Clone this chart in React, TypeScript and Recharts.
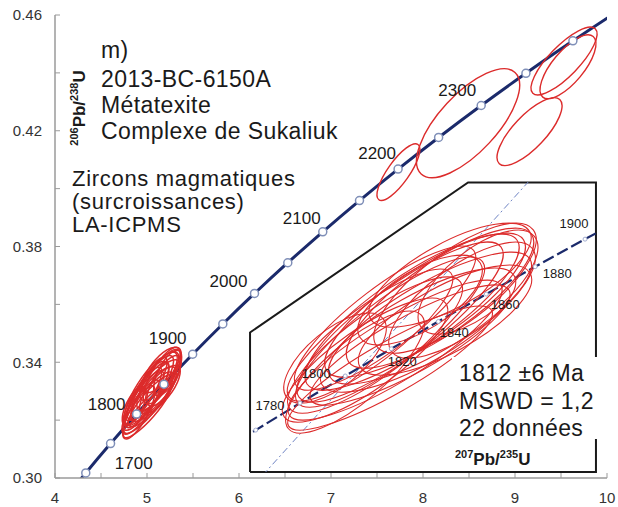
import React from 'react';
import { ComposedChart, Line, Scatter, XAxis, YAxis, LabelList } from 'recharts';

const FONT = '"Liberation Sans", Arial, Helvetica, sans-serif';
const NAVY = '#1b2a6b';
const RED = '#dc2b2b';
const AXIS_GREY = '#9a9a9a';
const FRAME_DARK = '#4a4a4a';

// Wetherill concordia, 50 Ma steps (207Pb/235U, 206Pb/238U)
const CONC_AGE = [1650, 1700, 1750, 1800, 1850, 1900, 1950, 2000, 2050, 2100, 2150, 2200, 2250, 2300, 2350, 2400, 2450];
const CONC_X = [4.0784, 4.3345, 4.604, 4.8869, 5.184, 5.4962, 5.8241, 6.1686, 6.5304, 6.9105, 7.3097, 7.7292, 8.1698, 8.6325, 9.1187, 9.6294, 10.166];
const CONC_Y = [0.2917, 0.30175, 0.31189, 0.3221, 0.3324, 0.34277, 0.35323, 0.36377, 0.37439, 0.38509, 0.39587, 0.40674, 0.41769, 0.42873, 0.43986, 0.45107, 0.46236];
const CONC_LABELED = [1700, 1800, 1900, 2000, 2100, 2200, 2300];

// concordia segment of the enlarged view, 20 Ma steps
const ZOOM_AGE = [1740, 1760, 1780, 1800, 1820, 1840, 1860, 1880, 1900, 1920];
const ZOOM_X = [4.5491, 4.6595, 4.7721, 4.8869, 5.004, 5.1234, 5.2453, 5.3695, 5.4962, 5.6254];
const ZOOM_Y = [0.30986, 0.31393, 0.31801, 0.3221, 0.32621, 0.33033, 0.33447, 0.33861, 0.34277, 0.34695];
const ZOOM_LABELED = [1780, 1800, 1820, 1840, 1860, 1880, 1900];

// zircon overgrowths, 22 analyses: 207/235, err, 206/238, err, rho
const ZR_X = [5.0262, 5.0567, 5.0897, 5.0008, 5.1278, 4.9626, 5.0719, 5.1659, 5.0135, 5.1024, 4.9372, 4.9118, 4.861, 5.1405, 5.1837, 5.2243, 4.9881, 5.0516, 5.1532, 5.077, 4.9499, 5.0008];
const ZR_SX = [0.262, 0.272, 0.255, 0.24, 0.238, 0.222, 0.248, 0.206, 0.272, 0.258, 0.21, 0.176, 0.13, 0.22, 0.186, 0.152, 0.23, 0.254, 0.206, 0.158, 0.21, 0.26];
const ZR_Y = [0.33024, 0.33175, 0.3328, 0.32873, 0.33386, 0.32677, 0.32903, 0.33537, 0.32601, 0.33084, 0.3245, 0.32269, 0.3248, 0.33054, 0.33356, 0.33628, 0.33084, 0.32677, 0.33733, 0.33356, 0.32828, 0.32329];
const ZR_SY = [0.01208, 0.01178, 0.01087, 0.01132, 0.01057, 0.01027, 0.00936, 0.00981, 0.01057, 0.00996, 0.00936, 0.00921, 0.00679, 0.0083, 0.00876, 0.00785, 0.01087, 0.00906, 0.00785, 0.00679, 0.00996, 0.00936];
const ZR_RHO = [0.85, 0.83, 0.81, 0.85, 0.8, 0.83, 0.78, 0.75, 0.86, 0.8, 0.81, 0.79, 0.66, 0.74, 0.73, 0.67, 0.85, 0.85, 0.72, 0.66, 0.85, 0.88];

// older inherited grains
const OLD_X = [7.733, 8.49, 9.158, 9.533, 9.576];
const OLD_SX = [0.233, 0.56, 0.353, 0.359, 0.304];
const OLD_Y = [0.4057, 0.4226, 0.4197, 0.4441, 0.4421];
const OLD_SY = [0.0098, 0.0188, 0.01172, 0.01172, 0.01103];
const OLD_RHO = [0.8, 0.7, 0.76, 0.8, 0.72];

// 207Pb/206Pb reference line through the origin (1812 Ma)
const PBPB_X = [4.6, 5.45];
const PBPB_Y = [0.30204, 0.35785];

// outline of the enlarged view, in main-plot units
const FRAME_X = [6.12, 9.88, 9.88, 8.49, 6.12, 6.12];
const FRAME_Y = [0.3021, 0.3021, 0.4021, 0.4021, 0.3503, 0.3021];

const X_TICKS = [4, 4.5, 5, 5.5, 6, 6.5, 7, 7.5, 8, 8.5, 9, 9.5, 10];
const X_LABELS = [4, 5, 6, 7, 8, 9, 10];
const Y_TICKS = [0.3, 0.32, 0.34, 0.36, 0.38, 0.4, 0.42, 0.44, 0.46];
const Y_LABELS = [0.3, 0.34, 0.38, 0.42, 0.46];

// layout
const W = 618;
const H = 507;
const PLOT = { left: 55, top: 15, right: 607, bottom: 478 };
const X_DOM: [number, number] = [4, 10];
const Y_DOM: [number, number] = [0.3, 0.46];
const INSET = { left: 250, top: 182, width: 346, height: 290 };
const IX_DOM: [number, number] = [4.645, 5.524];
const IY_DOM: [number, number] = [0.3076, 0.3514];

const KX = (PLOT.right - PLOT.left) / (X_DOM[1] - X_DOM[0]);
const KY = (PLOT.bottom - PLOT.top) / (Y_DOM[1] - Y_DOM[0]);
const IKX = INSET.width / (IX_DOM[1] - IX_DOM[0]);
const IKY = INSET.height / (IY_DOM[1] - IY_DOM[0]);

// label offsets (px) relative to each age marker
const CONC_NUDGE: Record<number, [number, number]> = {
  1700: [48, -10], 1800: [-30, -10], 1900: [-25, -16], 2000: [-26, -13],
  2100: [-21, -14], 2200: [-21, -16], 2300: [-24, -16],
};
const ZOOM_NUDGE: Record<number, [number, number]> = {
  1780: [-30, 2], 1800: [-29, -3], 1820: [11, 13], 1840: [16, 11],
  1860: [19, 10], 1880: [22, 7], 1900: [-11, -16],
};

const concordia = CONC_AGE.map((age, i) => ({ age, x: CONC_X[i], y: CONC_Y[i] }));
const zoomConcordia = ZOOM_AGE.map((age, i) => ({ age, x: ZOOM_X[i], y: ZOOM_Y[i] }));
const zircons = ZR_X.map((x, i) => ({ x, y: ZR_Y[i], sx: ZR_SX[i], sy: ZR_SY[i], rho: ZR_RHO[i] }));
const olderGrains = OLD_X.map((x, i) => ({ x, y: OLD_Y[i], sx: OLD_SX[i], sy: OLD_SY[i], rho: OLD_RHO[i] }));
const pbpbLine = PBPB_X.map((x, i) => ({ x, y: PBPB_Y[i] }));
const frame = FRAME_X.map((x, i) => ({ x, y: FRAME_Y[i] }));

// error ellipse from half-extents + correlation, scaled to pixels
const ellipseShape = (kx: number, ky: number, width: number) => (p: any) => {
  const { cx, cy, payload } = p;
  if (cx == null || cy == null) return <g />;
  const a = kx * payload.sx;
  const b = ky * payload.sy;
  const c = payload.rho * a * b;
  const mid = (a * a + b * b) / 2;
  const d = Math.sqrt(((a * a - b * b) / 2) ** 2 + c * c);
  const rx = Math.sqrt(mid + d);
  const ry = Math.sqrt(Math.max(mid - d, 0));
  const ang = (0.5 * Math.atan2(-2 * c, a * a - b * b) * 180) / Math.PI;
  return (
    <ellipse cx={cx} cy={cy} rx={rx} ry={ry} transform={`rotate(${ang} ${cx} ${cy})`}
      fill="none" stroke={RED} strokeWidth={width} />
  );
};

const near = (list: number[], v: number) => list.some((l) => Math.abs(l - v) < 1e-6);

const YTick = (p: any) => {
  const { x, y, payload } = p;
  const v = payload.value;
  return (
    <g>
      <line x1={x} x2={x + 5} y1={y} y2={y} stroke={AXIS_GREY} strokeWidth={1} />
      {near(Y_LABELS, v) && (
        <text x={x - 13} y={y} dy="0.36em" textAnchor="end" fontFamily={FONT} fontSize={15} fill="#333">
          {v.toFixed(2)}
        </text>
      )}
    </g>
  );
};

const XTick = (p: any) => {
  const { x, y, payload } = p;
  const v = payload.value;
  return (
    <g>
      <line x1={x} x2={x} y1={y} y2={y - 5} stroke={AXIS_GREY} strokeWidth={1} />
      {near(X_LABELS, v) && (
        <text x={x} y={y + 25} textAnchor="middle" fontFamily={FONT} fontSize={15} fill="#333">
          {v}
        </text>
      )}
    </g>
  );
};

const ageLabel = (labeled: number[], nudge: Record<number, [number, number]>, size: number) => (p: any) => {
  const { x, y, value } = p;
  if (!labeled.includes(value) || x == null) return <g key={`e${value}`} />;
  const [dx, dy] = nudge[value];
  return (
    <text key={`a${value}`} x={x + dx} y={y + dy} dy="0.36em" textAnchor="middle"
      fontFamily={FONT} fontSize={size} fill="#1a1a1a">
      {value}
    </text>
  );
};

const PbU = ({ a, b }: { a: string; b: string }) => (
  <>
    <tspan fontSize={11} dy={-7}>{a}</tspan>
    <tspan fontSize={17} dy={7}>Pb/</tspan>
    <tspan fontSize={11} dy={-7}>{b}</tspan>
    <tspan fontSize={17} dy={7}>U</tspan>
  </>
);

export default function App() {
  return (
    <div style={{ position: 'absolute', left: 0, top: 0, width: W, height: H, background: '#fff', fontFamily: FONT }}>
      <ComposedChart width={W} height={H}
        margin={{ top: PLOT.top, right: W - PLOT.right, bottom: 0, left: 0 }}>
        <XAxis dataKey="x" type="number" domain={X_DOM} allowDataOverflow ticks={X_TICKS} interval={0}
          tick={XTick} tickLine={false} tickSize={0} tickMargin={0} height={H - PLOT.bottom}
          axisLine={{ stroke: AXIS_GREY, strokeWidth: 1.5 }} />
        <YAxis dataKey="y" type="number" domain={Y_DOM} allowDataOverflow ticks={Y_TICKS} interval={0}
          tick={YTick} tickLine={false} tickSize={0} tickMargin={0} width={PLOT.left}
          axisLine={{ stroke: AXIS_GREY, strokeWidth: 1.5 }} />
        <XAxis xAxisId="top" orientation="top" type="number" domain={X_DOM} height={0}
          tick={false} tickLine={false} axisLine={{ stroke: FRAME_DARK, strokeWidth: 2 }} />
        <YAxis yAxisId="right" orientation="right" type="number" domain={Y_DOM} width={0}
          tick={false} tickLine={false} axisLine={{ stroke: FRAME_DARK, strokeWidth: 2 }} />

        <Line data={concordia} dataKey="y" type="monotone" stroke={NAVY} strokeWidth={3}
          dot={false} activeDot={false} isAnimationActive={false} />
        <Scatter data={zircons} dataKey="y" shape={ellipseShape(KX, KY, 1.5)} isAnimationActive={false} />
        <Scatter data={olderGrains} dataKey="y" shape={ellipseShape(KX, KY, 1.4)} isAnimationActive={false} />
        <Line data={frame} dataKey="y" type="linear" stroke="#1a1a1a" strokeWidth={2}
          dot={false} activeDot={false} isAnimationActive={false} />
        <Line data={concordia} dataKey="y" type="monotone" stroke="none"
          dot={{ r: 4, fill: '#fff', stroke: '#7f8fb8', strokeWidth: 1.5 }} activeDot={false}
          isAnimationActive={false}>
          <LabelList dataKey="age" content={ageLabel(CONC_LABELED, CONC_NUDGE, 17)} />
        </Line>
      </ComposedChart>

      <div style={{ position: 'absolute', left: INSET.left, top: INSET.top }}>
        <ComposedChart width={INSET.width} height={INSET.height} margin={{ top: 0, right: 0, bottom: 0, left: 0 }}>
          <XAxis dataKey="x" type="number" domain={IX_DOM} allowDataOverflow hide />
          <YAxis dataKey="y" type="number" domain={IY_DOM} allowDataOverflow hide />
          <Scatter data={zircons} dataKey="y" shape={ellipseShape(IKX, IKY, 1.1)} isAnimationActive={false} />
          <Line data={pbpbLine} dataKey="y" type="linear" stroke="#6f84c4" strokeWidth={1}
            strokeDasharray="7 3 2 3" dot={false} activeDot={false} isAnimationActive={false} />
          <Line data={zoomConcordia} dataKey="y" type="linear" stroke={NAVY} strokeWidth={2.2}
            strokeDasharray="12 4" dot={{ r: 2, fill: '#fff', stroke: '#a3aed0', strokeWidth: 1 }}
            activeDot={false} isAnimationActive={false}>
            <LabelList dataKey="age" content={ageLabel(ZOOM_LABELED, ZOOM_NUDGE, 13)} />
          </Line>
        </ComposedChart>
      </div>

      <svg width={W} height={H} style={{ position: 'absolute', left: 0, top: 0, pointerEvents: 'none' }}
        fontFamily={FONT} fill="#1a1a1a">
        <g fontSize={23} letterSpacing={0.4}>
          <text x={101} y={58}>m)</text>
          <text x={101} y={87}>2013-BC-6150A</text>
          <text x={101} y={113}>Métatexite</text>
          <text x={101} y={139}>Complexe de Sukaliuk</text>
        </g>
        <g fontSize={22} letterSpacing={0.7}>
          <text x={72} y={186}>Zircons magmatiques</text>
          <text x={72} y={209}>(surcroissances)</text>
          <text x={72} y={232}>LA-ICPMS</text>
        </g>
        <rect x={452} y={357} width={146} height={82} fill="#fff" />
        <g fontSize={23} letterSpacing={0.4}>
          <text x={459} y={381}>1812 ±6 Ma</text>
          <text x={459} y={409}>MSWD = 1,2</text>
          <text x={459} y={436}>22 données</text>
        </g>
        <text transform="translate(85,108) rotate(-90)" textAnchor="middle" fontWeight="bold">
          <PbU a="206" b="238" />
        </text>
        <text x={455} y={465} fontWeight="bold">
          <PbU a="207" b="235" />
        </text>
      </svg>
    </div>
  );
}
